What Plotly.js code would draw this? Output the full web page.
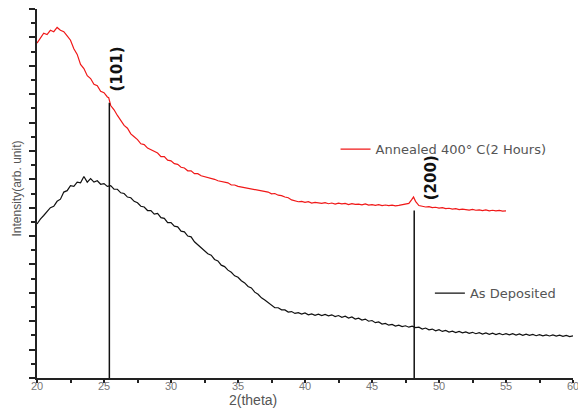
<!DOCTYPE html>
<html>
<head>
<meta charset="utf-8">
<script src="https://cdn.plot.ly/plotly-3.0.1.min.js"></script>
<style>html,body{margin:0;padding:0;background:#fff;}#chart{width:578px;height:412px;}</style>
</head>
<body>
<div id="chart"></div>
<script>
// ---- data ----
var annealedX = [20,20.25,20.5,20.75,21,21.25,21.5,21.75,22,22.25,22.5,22.75,23,23.25,23.5,23.75,24,24.25,24.5,24.75,25,25.25,25.35,25.5,25.75,26,26.25,26.5,26.75,27,27.25,27.5,27.75,28,28.25,28.5,28.75,29,29.25,29.5,29.75,30,30.25,30.5,30.75,31,31.25,31.5,31.75,32,32.25,32.5,32.75,33,33.25,33.5,33.75,34,34.25,34.5,34.75,35,35.25,35.5,35.75,36,36.25,36.5,36.75,37,37.25,37.5,37.75,38,38.25,38.5,38.75,39,39.25,39.5,39.75,40,40.25,40.5,40.75,41,41.25,41.5,41.75,42,42.25,42.5,42.75,43,43.25,43.5,43.75,44,44.25,44.5,44.75,45,45.25,45.5,45.75,46,46.25,46.5,46.75,47,47.25,47.5,47.75,47.95,48.1,48.25,48.5,48.75,49,49.25,49.5,49.75,50,50.25,50.5,50.75,51,51.25,51.5,51.75,52,52.25,52.5,52.75,53,53.25,53.5,53.75,54,54.25,54.5,54.75,55];
var annealedY = [23.6,24.0,24.3,24.2,24.5,24.4,24.7,24.5,24.4,24.1,23.8,23.2,22.8,22.1,21.8,21.3,21.1,20.7,20.6,20.2,20.1,19.8,19.75,19.2,18.9,18.5,18.1,17.8,17.6,17.2,17.0,16.8,16.5,16.45,16.2,16.1,15.95,15.85,15.6,15.6,15.35,15.3,15.1,15.05,14.85,14.8,14.6,14.6,14.4,14.4,14.25,14.2,14.15,14.05,14.0,13.9,13.85,13.75,13.75,13.6,13.6,13.5,13.45,13.4,13.35,13.3,13.25,13.2,13.15,13.1,13.1,12.98,13.0,12.88,12.85,12.75,12.7,12.55,12.5,12.42,12.45,12.38,12.42,12.33,12.38,12.35,12.3,12.36,12.28,12.33,12.25,12.32,12.27,12.3,12.22,12.29,12.24,12.25,12.2,12.27,12.18,12.22,12.17,12.21,12.15,12.19,12.14,12.18,12.13,12.16,12.2,12.22,12.3,12.55,12.75,12.45,12.15,12.1,12.05,12.08,12.0,12.03,11.97,12.0,11.93,11.96,11.9,11.93,11.86,11.9,11.87,11.83,11.88,11.82,11.85,11.79,11.84,11.78,11.82,11.77,11.81,11.76,11.78];

var depositedX = [20,20.25,20.5,20.75,21,21.25,21.5,21.75,22,22.25,22.5,22.75,23,23.25,23.5,23.75,24,24.25,24.5,24.75,25,25.25,25.5,25.75,26,26.25,26.5,26.75,27,27.25,27.5,27.75,28,28.25,28.5,28.75,29,29.25,29.5,29.75,30,30.25,30.5,30.75,31,31.25,31.5,31.75,32,32.25,32.5,32.75,33,33.25,33.5,33.75,34,34.25,34.5,34.75,35,35.25,35.5,35.75,36,36.25,36.5,36.75,37,37.25,37.5,37.75,38,38.25,38.5,38.75,39,39.25,39.5,39.75,40,40.25,40.5,40.75,41,41.25,41.5,41.75,42,42.25,42.5,42.75,43,43.25,43.5,43.75,44,44.25,44.5,44.75,45,45.25,45.5,45.75,46,46.25,46.5,46.75,47,47.25,47.5,47.75,48,48.25,48.5,48.75,49,49.25,49.5,49.75,50,50.25,50.5,50.75,51,51.25,51.5,51.75,52,52.25,52.5,52.75,53,53.25,53.5,53.75,54,54.25,54.5,54.75,55,55.25,55.5,55.75,56,56.25,56.5,56.75,57,57.25,57.5,57.75,58,58.25,58.5,58.75,59,59.25,59.5,59.75,60];
var depositedY = [10.85,11.2,11.45,11.7,12.0,12.1,12.45,12.6,13.1,13.2,13.55,13.5,13.8,13.75,14.2,13.8,14.05,13.8,13.9,13.65,13.7,13.5,13.55,13.3,13.3,13.05,13.0,12.75,12.7,12.45,12.35,12.1,12.05,11.8,11.8,11.55,11.6,11.3,11.25,10.95,10.95,10.7,10.65,10.35,10.3,10.0,9.95,9.6,9.4,9.15,9.0,8.75,8.65,8.35,8.25,7.95,7.85,7.6,7.45,7.2,7.1,6.85,6.7,6.45,6.35,6.05,5.9,5.65,5.5,5.3,5.15,4.95,4.95,4.8,4.8,4.65,4.68,4.55,4.6,4.5,4.58,4.45,4.52,4.42,4.5,4.4,4.48,4.38,4.45,4.33,4.4,4.28,4.35,4.22,4.3,4.15,4.22,4.08,4.15,4.0,4.05,3.9,3.95,3.8,3.85,3.72,3.78,3.66,3.72,3.62,3.68,3.58,3.65,3.55,3.58,3.45,3.52,3.4,3.45,3.33,3.4,3.28,3.35,3.24,3.3,3.2,3.28,3.18,3.25,3.15,3.22,3.12,3.2,3.1,3.18,3.08,3.16,3.06,3.14,3.05,3.12,3.04,3.13,3.03,3.1,3.0,3.09,3.0,3.07,2.98,3.06,2.97,3.04,2.96,3.03,2.95,3.02,2.93,3.0,2.92,2.97];

var peakX = [25.4, 48.15];
var peakTop = [19.4, 11.8];
var peakLabels = ["(101)", "(200)"];
var seriesNames = ["Annealed 400\u00b0 C(2 Hours)", "As Deposited"];
var xTickVals = [20, 25, 30, 35, 40, 45, 50, 55, 60];
var xTitle = "2(theta)";
var yTitle = "Intensity(arb. unit)";

// ---- traces ----
var traces = [
  {x: annealedX, y: annealedY, type: 'scatter', mode: 'lines', name: seriesNames[0],
   line: {color: '#f01818', width: 1.2}, legend: 'legend'},
  {x: depositedX, y: depositedY, type: 'scatter', mode: 'lines', name: seriesNames[1],
   line: {color: '#111111', width: 1.2}, legend: 'legend2'}
];
for (var i = 0; i < peakX.length; i++) {
  traces.push({x: [peakX[i], peakX[i]], y: [0, peakTop[i]], type: 'scatter', mode: 'lines',
    showlegend: false, hoverinfo: 'skip', line: {color: '#111111', width: 1.5}});
}

var peakFont = {family: 'DejaVu Sans, sans-serif', size: 15, color: '#111'};
var annotations = [
  {x: peakX[0], y: peakTop[0], xref: 'x', yref: 'y', text: '<b>' + peakLabels[0] + '</b>',
    showarrow: false, textangle: -90, xanchor: 'left', yanchor: 'bottom', xshift: -3, yshift: 9, font: peakFont},
  {x: peakX[1], y: peakTop[1], xref: 'x', yref: 'y', text: '<b>' + peakLabels[1] + '</b>',
    showarrow: false, textangle: -90, xanchor: 'left', yanchor: 'bottom', xshift: 6, yshift: 8, font: peakFont},
  {x: 36.1, y: 0, xref: 'x', yref: 'paper', text: xTitle, showarrow: false,
    yanchor: 'top', yshift: -12, font: {family: 'Liberation Sans, Arial, sans-serif', size: 14, color: '#555'}},
  {x: 0, y: 0.5, xref: 'paper', yref: 'paper', text: yTitle, showarrow: false,
    textangle: -90, xanchor: 'center', xshift: -21, yshift: 5, font: {family: 'Liberation Sans, Arial, sans-serif', size: 12, color: '#555'}}
];

var legendFont = {family: 'DejaVu Sans, sans-serif', size: 13, color: '#555'};
var layout = {
  width: 578, height: 412,
  margin: {l: 37, r: 5, t: 9, b: 34},
  paper_bgcolor: '#fff', plot_bgcolor: '#fff',
  showlegend: true,
  xaxis: {range: [20, 60], tickvals: xTickVals, ticks: 'outside', ticklen: 3, tickwidth: 2, tickcolor: '#222',
    showline: true, linecolor: '#222', linewidth: 2, showgrid: false, zeroline: false,
    ticklabeloverflow: 'allow', ticklabelstandoff: -6,
    minor: {dtick: 2.5, ticks: 'outside', ticklen: 3, tickwidth: 2, tickcolor: '#222', showgrid: false},
    tickfont: {family: 'Liberation Sans, Arial, sans-serif', size: 11, color: '#777'}},
  yaxis: {range: [0, 26], dtick: 2, tick0: 0, ticks: 'outside', ticklen: 6, tickwidth: 2, tickcolor: '#222',
    showline: true, linecolor: '#222', linewidth: 2, showgrid: false, zeroline: false, showticklabels: false,
    minor: {dtick: 1, ticks: 'outside', ticklen: 4, tickwidth: 2, tickcolor: '#222', showgrid: false}},
  legend: {x: 0.557, y: 0.62, xanchor: 'left', yanchor: 'middle', bgcolor: 'rgba(0,0,0,0)', font: legendFont},
  legend2: {x: 0.733, y: 0.23, xanchor: 'left', yanchor: 'middle', bgcolor: 'rgba(0,0,0,0)', font: legendFont},
  annotations: annotations
};

Plotly.newPlot('chart', traces, layout, {displayModeBar: false, staticPlot: true});
</script>
</body>
</html>
